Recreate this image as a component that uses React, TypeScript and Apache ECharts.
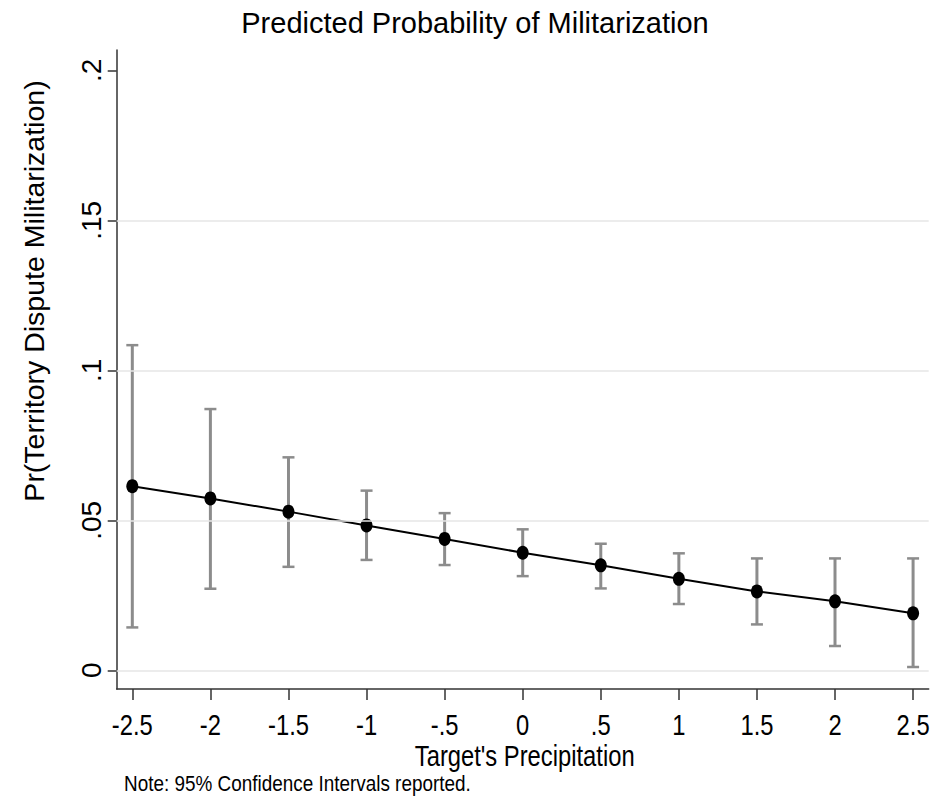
import React, { useEffect, useRef } from "react";
import * as echarts from "echarts";

const xValues = [-2.5, -2, -1.5, -1, -0.5, 0, 0.5, 1, 1.5, 2, 2.5];
const predicted = [0.0614, 0.0573, 0.0529, 0.0483, 0.0438, 0.0392, 0.035, 0.0305, 0.0263, 0.023, 0.019];
const upperCI = [0.1084, 0.0871, 0.071, 0.0599, 0.0524, 0.047, 0.0422, 0.039, 0.0373, 0.0373, 0.0373];
const lowerCI = [0.0143, 0.0272, 0.0345, 0.0368, 0.0351, 0.0314, 0.0273, 0.0221, 0.0153, 0.0081, 0.0011];
const xTicks = [-2.5, -2, -1.5, -1, -0.5, 0, 0.5, 1, 1.5, 2, 2.5];
const yTicks = [0, 0.05, 0.1, 0.15, 0.2];
const gridValues = [0, 0.05, 0.1, 0.15];

const titleText = "Predicted Probability of Militarization";
const xTitle = "Target's Precipitation";
const yTitle = "Pr(Territory Dispute Militarization)";
const noteText = "Note: 95% Confidence Intervals reported.";

const fmt = (v: number) => {
  const r = Math.round(v * 1000) / 1000;
  let s = String(r);
  s = s.replace(/^0\./, ".").replace(/^-0\./, "-.");
  return s;
};

const REG = "'Liberation Sans', Arial, sans-serif";
const CONDENSE = 0.82;

export default function App() {
  const ref = useRef<HTMLDivElement>(null);
  useEffect(() => {
    if (!ref.current) return;
    const chart = echarts.init(ref.current, undefined, { renderer: "svg" });
    const option: any = {
      animation: false,
      backgroundColor: "#ffffff",
      title: {
        text: titleText,
        left: "center",
        top: 8,
        padding: 0,
        textStyle: { fontFamily: REG, fontSize: 29, fontWeight: "normal", color: "#000" },
      },
      grid: { left: 116.7, right: 21.3, top: 50, bottom: 117, containLabel: false },
      xAxis: {
        type: "value",
        min: -2.6,
        max: 2.6,
        axisLine: { show: true, onZero: false, lineStyle: { color: "#333", width: 1.5 } },
        axisTick: { show: true, length: 11, customValues: xTicks, lineStyle: { color: "#333", width: 1.5 } },
        axisLabel: { show: false, customValues: xTicks },
        splitLine: { show: false },
      },
      yAxis: {
        type: "value",
        min: -0.00623,
        max: 0.2068,
        axisLine: { show: true, onZero: false, lineStyle: { color: "#333", width: 1.5 } },
        axisTick: { show: true, length: 9, customValues: yTicks, lineStyle: { color: "#333", width: 1.5 } },
        axisLabel: {
          customValues: yTicks,
          formatter: (v: number) => fmt(v),
          rotate: 90,
          fontFamily: REG,
          fontSize: 28,
          color: "#000",
          margin: 11,
        },
        splitLine: { show: false },
      },
      series: [
        {
          type: "line",
          data: [],
          z: 1,
          silent: true,
          markLine: {
            silent: true,
            symbol: ["none", "none"],
            label: { show: false },
            lineStyle: { color: "#e6e6e6", width: 1.5, type: "solid" },
            data: gridValues.map((v) => ({ yAxis: v })),
          },
        },
        {
          type: "custom",
          z: 2,
          data: xValues.map((x, i) => [x, lowerCI[i], upperCI[i]]),
          encode: { x: 0, y: [1, 2] },
          renderItem: (params: any, api: any) => {
            const x = api.value(0);
            const lo = api.coord([x, api.value(1)]);
            const hi = api.coord([x, api.value(2)]);
            const hw = 6;
            const st = { stroke: "#8c8c8c", lineWidth: 3 };
            return {
              type: "group",
              children: [
                { type: "line", shape: { x1: lo[0], y1: lo[1], x2: hi[0], y2: hi[1] }, style: st },
                { type: "line", shape: { x1: lo[0] - hw, y1: lo[1], x2: lo[0] + hw, y2: lo[1] }, style: { ...st, lineWidth: 2.5 } },
                { type: "line", shape: { x1: hi[0] - hw, y1: hi[1], x2: hi[0] + hw, y2: hi[1] }, style: { ...st, lineWidth: 2.5 } },
              ],
            };
          },
        },
        {
          type: "line",
          z: 3,
          data: xValues.map((x, i) => [x, predicted[i]]),
          symbol: "circle",
          symbolSize: [12, 14],
          showSymbol: true,
          itemStyle: { color: "#000" },
          lineStyle: { color: "#000", width: 2 },
        },
      ],
    };
    chart.setOption(option);

    // Axis-driven label positions (condensed text, as in the reference)
    const axisY = chart.convertToPixel({ yAxisIndex: 0 }, -0.00623) as number;
    const centerX = chart.convertToPixel({ xAxisIndex: 0 }, 0) as number;
    const tickLabels = xTicks.map((v) => ({
      type: "text",
      x: chart.convertToPixel({ xAxisIndex: 0 }, v) as number,
      y: axisY + 36,
      scaleX: CONDENSE,
      silent: true,
      style: {
        text: fmt(v),
        fontFamily: REG,
        fontSize: 29,
        fill: "#000",
        textAlign: "center",
        textVerticalAlign: "middle",
      },
    }));
    chart.setOption({
      graphic: [
        ...tickLabels,
        {
          type: "text",
          x: centerX + 2,
          y: axisY + 67,
          scaleX: CONDENSE,
          silent: true,
          style: {
            text: xTitle,
            fontFamily: REG,
            fontSize: 29,
            fill: "#000",
            textAlign: "center",
            textVerticalAlign: "middle",
          },
        },
        {
          type: "text",
          x: 34,
          y: 291,
          rotation: Math.PI / 2,
          silent: true,
          style: {
            text: yTitle,
            fontFamily: REG,
            fontSize: 28.5,
            fill: "#000",
            textAlign: "center",
            textVerticalAlign: "middle",
          },
        },
        {
          type: "text",
          x: 124,
          y: 783,
          scaleX: 0.86,
          silent: true,
          style: {
            text: noteText,
            fontFamily: REG,
            fontSize: 22,
            fill: "#000",
            textAlign: "left",
            textVerticalAlign: "middle",
          },
        },
      ],
    });
    return () => chart.dispose();
  }, []);
  return (
    <div
      ref={ref}
      style={{ position: "fixed", left: 0, top: 0, width: 950, height: 806, background: "#fff" }}
    />
  );
}
